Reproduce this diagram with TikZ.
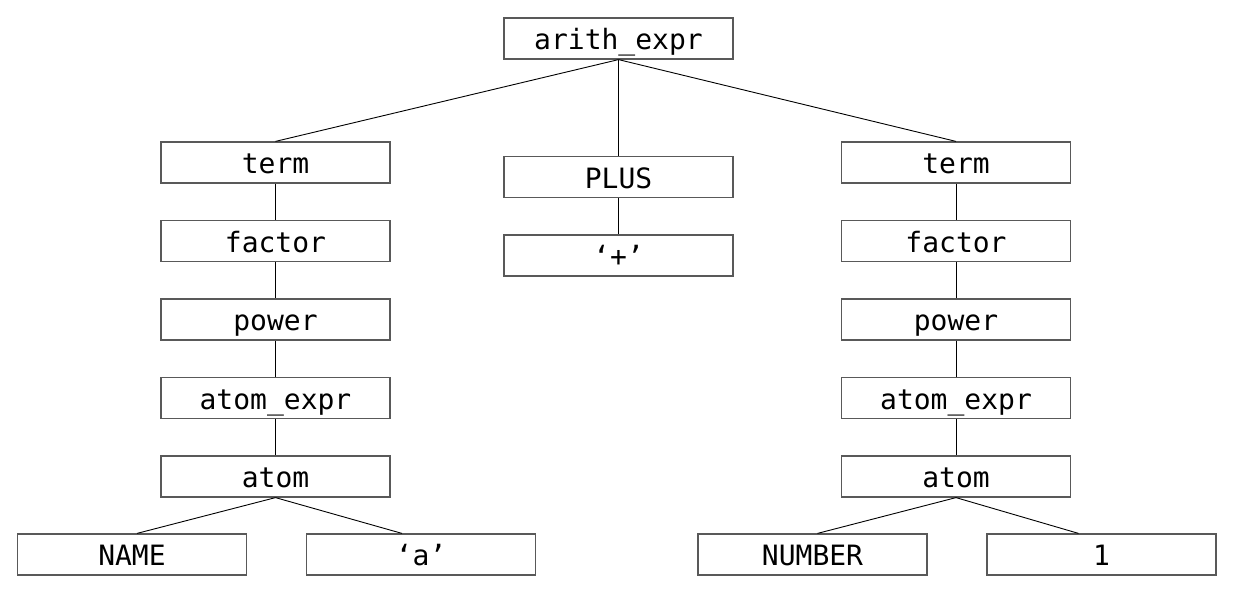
\documentclass[tikz,border=0pt]{standalone}
\usepackage{fontspec}
\setmonofont{DejaVu Sans Mono}
\usetikzlibrary{positioning}

\begin{document}
\begin{tikzpicture}[x=1pt, y=-1pt, node distance=78.5pt, auto]
    % Define the style for the nodes
    \tikzstyle{block} = [rectangle, draw=black!65, line width=1.2pt, minimum width=229pt, minimum height=41pt, inner sep=0pt, text height=22pt, text depth=0pt, font=\ttfamily\fontsize{28}{28}\selectfont]
    \tikzstyle{line} = [draw, line width=0.9pt]
    \useasboundingbox (0,0) rectangle (1245,592);

    % Place the nodes
    \node [block] (arith) at (618.5,38.5) {arith\_expr};
    \node [block] (termL) at (275.5,162.5) {term};
    \node [block, below of=termL] (factorL) {factor};
    \node [block, below of=factorL] (powerL) {power};
    \node [block, below of=powerL] (atomexprL) {atom\_expr};
    \node [block, below of=atomexprL] (atomL) {atom};
    \node [block] (plus) at (618.5,177) {PLUS};
    \node [block, below of=plus] (plussign) {‘+’};
    \node [block] (termR) at (956,162.5) {term};
    \node [block, below of=termR] (factorR) {factor};
    \node [block, below of=factorR] (powerR) {power};
    \node [block, below of=powerR] (atomexprR) {atom\_expr};
    \node [block, below of=atomexprR] (atomR) {atom};
    \node [block] (name) at (132,554.5) {NAME};
    \node [block] (achar) at (421,554.5) {‘a’};
    \node [block] (number) at (812.5,554.5) {NUMBER};
    \node [block] (one) at (1101.5,554.5) {1};

    % Connect the nodes with paths
    \path [line] (arith.south) -- (termL.north);
    \path [line] (arith.south) -- (plus.north);
    \path [line] (arith.south) -- (termR.north);
    \path [line] (plus) -- (plussign);
    \path [line] (termL) -- (factorL);
    \path [line] (factorL) -- (powerL);
    \path [line] (powerL) -- (atomexprL);
    \path [line] (atomexprL) -- (atomL);
    \path [line] (termR) -- (factorR);
    \path [line] (factorR) -- (powerR);
    \path [line] (powerR) -- (atomexprR);
    \path [line] (atomexprR) -- (atomR);
    \path [line] (atomL.south) -- ([xshift=5pt]name.north);
    \path [line] (atomL.south) -- ([xshift=-19pt]achar.north);
    \path [line] (atomR.south) -- ([xshift=5pt]number.north);
    \path [line] (atomR.south) -- ([xshift=-23pt]one.north);
\end{tikzpicture}
\end{document}
